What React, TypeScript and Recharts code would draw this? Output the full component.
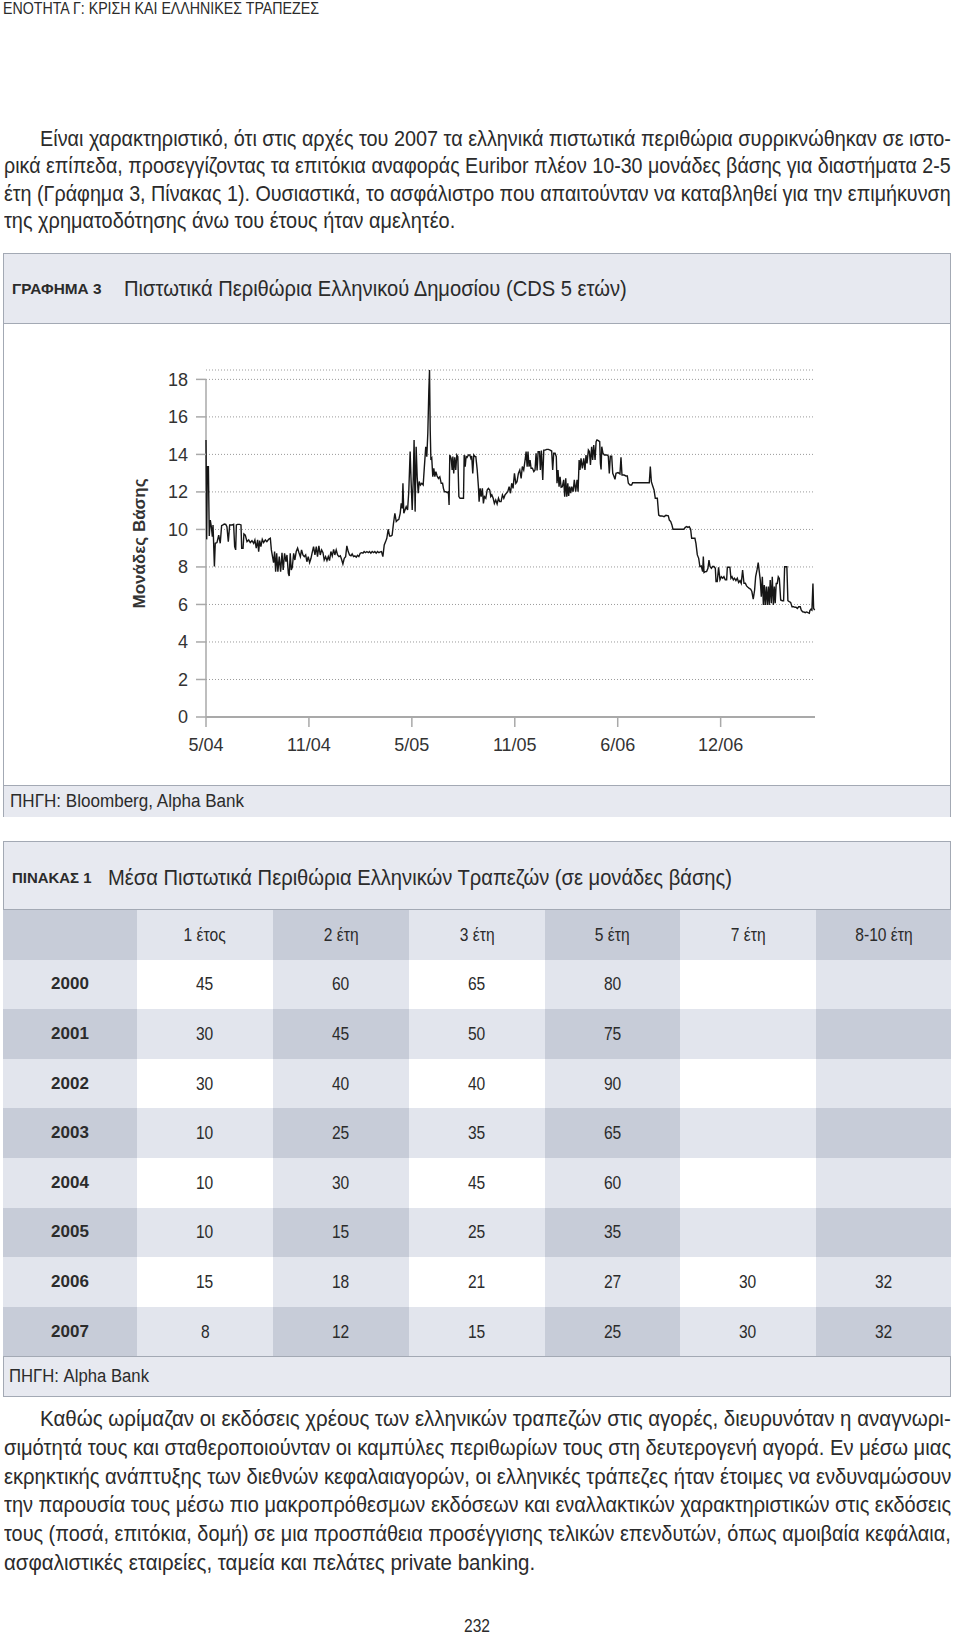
import React, { useLayoutEffect, useRef, useState } from 'react';
import { LineChart, Line, XAxis, YAxis, CartesianGrid, ReferenceLine } from 'recharts';

const FONT = "'Liberation Sans', Arial, sans-serif";
const TEXT = '#2b2b2b';
const BORDER = '#a3a9b4';
const BAND = '#e7e9f0';
const LIGHT = '#e2e5ed';
const MID = '#c7ccd8';

// ---- Chart data (x = months since May 2004, y = basis points) ----
const xTickMonths = [0, 6, 12, 18, 24, 30];
const xTickLabels = ['5/04', '11/04', '5/05', '11/05', '6/06', '12/06'];
const yTicks = [0, 2, 4, 6, 8, 10, 12, 14, 16, 18];

const cdsMay04Apr05: [number, number][] = [
  [0, 14.77], [0.04, 9.47], [0.08, 13.35], [0.14, 13.35], [0.19, 9.65], [0.25, 10.5], [0.31, 10.15], [0.37, 9.62], [0.41, 10.24], [0.49, 8.02],
  [0.54, 9.26], [0.64, 9.3], [0.74, 9.7], [0.83, 9.26], [0.91, 10.2], [0.99, 10.24], [1.07, 10.29], [1.15, 10.27], [1.22, 10.15], [1.3, 9.35],
  [1.38, 10.24], [1.46, 10.24], [1.53, 10.24], [1.61, 10.27], [1.67, 9.08], [1.73, 8.91], [1.77, 10.24], [1.84, 10.27], [1.96, 10.27], [2.04, 10.24],
  [2.08, 9.0], [2.16, 9.0], [2.21, 9.76], [2.29, 9.7], [2.39, 9.35], [2.49, 9.44], [2.58, 9.3], [2.68, 9.4], [2.78, 9.26], [2.85, 9.44],
  [2.93, 9.0], [3.01, 9.44], [3.07, 8.82], [3.13, 9.4], [3.2, 9.08], [3.28, 9.47], [3.36, 9.3], [3.46, 9.44], [3.55, 9.35], [3.65, 9.47],
  [3.75, 9.53], [3.81, 8.91], [3.86, 8.64], [3.94, 8.23], [4.0, 8.82], [4.06, 7.75], [4.12, 8.73], [4.19, 7.75], [4.27, 8.55], [4.35, 7.75],
  [4.43, 8.76], [4.5, 7.84], [4.58, 8.73], [4.66, 8.28], [4.72, 8.64], [4.8, 7.66], [4.85, 7.52], [4.91, 8.73], [4.97, 7.84], [5.03, 7.98],
  [5.11, 8.73], [5.18, 8.37], [5.26, 8.82], [5.34, 9.0], [5.42, 8.76], [5.5, 8.55], [5.57, 8.91], [5.65, 8.64], [5.73, 8.55], [5.81, 8.64],
  [5.88, 8.28], [5.96, 8.55], [6.04, 8.23], [6.12, 8.46], [6.19, 8.76], [6.27, 9.08], [6.35, 8.64], [6.43, 9.08], [6.5, 8.55], [6.58, 9.12],
  [6.66, 8.64], [6.74, 8.91], [6.82, 8.76], [6.89, 8.37], [6.97, 8.55], [7.05, 8.34], [7.13, 8.55], [7.2, 8.34], [7.28, 8.82], [7.36, 8.59],
  [7.44, 8.94], [7.51, 8.64], [7.59, 8.91], [7.67, 8.64], [7.75, 8.55], [7.83, 8.59], [7.9, 8.41], [7.98, 8.16], [8.06, 8.46], [8.14, 8.55],
  [8.21, 9.12], [8.29, 8.82], [8.37, 8.64], [8.45, 8.59], [8.52, 8.69], [8.6, 8.55], [8.68, 8.59], [8.76, 8.52], [8.83, 8.62], [8.91, 8.55],
  [8.99, 8.73], [9.07, 8.76], [9.15, 8.73], [9.22, 8.82], [9.3, 8.76], [9.38, 8.82], [9.46, 8.76], [9.53, 8.82], [9.61, 8.73], [9.69, 8.82],
  [9.77, 8.76], [9.84, 8.82], [9.92, 8.73], [10.0, 8.82], [10.08, 8.76], [10.16, 8.8], [10.23, 8.82], [10.31, 8.55], [10.39, 9.17], [10.47, 9.35],
  [10.54, 9.53], [10.62, 10.01], [10.7, 9.65], [10.78, 9.65], [10.85, 9.7], [10.93, 10.33], [11.01, 10.86], [11.09, 10.42], [11.17, 10.5], [11.24, 10.54],
  [11.32, 10.86], [11.38, 11.39], [11.44, 11.13], [11.48, 12.46], [11.53, 10.86],
];

const cdsApr05May06: [number, number][] = [
  [11.67, 11.21], [11.75, 11.04], [11.82, 12.01], [11.9, 14.15], [11.96, 12.46], [12.02, 11.04], [12.08, 12.64], [12.13, 14.77], [12.19, 10.95], [12.25, 14.41],
  [12.31, 12.81], [12.37, 11.93], [12.43, 12.55], [12.5, 12.37], [12.58, 12.46], [12.66, 12.37], [12.73, 13.35], [12.81, 14.41], [12.87, 13.88], [12.93, 15.12],
  [12.99, 17.43], [13.03, 18.5], [13.07, 15.3], [13.11, 13.7], [13.16, 13.79], [13.22, 12.81], [13.28, 13.26], [13.34, 12.81], [13.4, 13.08], [13.47, 12.85],
  [13.55, 12.72], [13.63, 12.81], [13.71, 12.46], [13.79, 12.46], [13.84, 12.19], [13.9, 12.01], [13.98, 12.01], [14.06, 11.96], [14.13, 12.01], [14.17, 11.3],
  [14.21, 13.97], [14.29, 13.79], [14.35, 13.17], [14.39, 13.88], [14.44, 12.99], [14.5, 13.84], [14.56, 13.17], [14.62, 13.97], [14.68, 13.88], [14.74, 11.75],
  [14.81, 11.66], [14.91, 11.66], [15.01, 11.66], [15.05, 13.97], [15.11, 13.35], [15.16, 13.88], [15.22, 13.84], [15.3, 13.97], [15.38, 13.97], [15.44, 13.79],
  [15.49, 13.91], [15.55, 12.99], [15.61, 13.97], [15.69, 13.88], [15.73, 13.88], [15.81, 13.17], [15.88, 12.28], [15.92, 11.48], [15.98, 12.19], [16.04, 11.75],
  [16.11, 12.19], [16.17, 11.39], [16.23, 11.75], [16.31, 11.66], [16.39, 12.1], [16.46, 12.19], [16.54, 12.1], [16.6, 11.75], [16.66, 11.84], [16.74, 11.66],
  [16.81, 11.39], [16.89, 11.57], [16.97, 11.36], [17.05, 11.66], [17.12, 11.48], [17.2, 11.48], [17.28, 11.84], [17.36, 11.66], [17.43, 11.84], [17.51, 11.93],
  [17.59, 12.01], [17.67, 12.28], [17.75, 11.93], [17.82, 12.46], [17.9, 12.19], [17.98, 12.99], [18.06, 12.46], [18.13, 12.55], [18.21, 12.99], [18.29, 13.17],
  [18.37, 12.72], [18.44, 13.35], [18.52, 13.17], [18.6, 13.7], [18.66, 14.15], [18.72, 13.35], [18.77, 14.15], [18.83, 13.35], [18.89, 13.7], [18.95, 13.26],
  [19.03, 13.26], [19.11, 13.08], [19.18, 13.17], [19.24, 14.06], [19.3, 13.14], [19.36, 14.15], [19.44, 14.15], [19.49, 13.17], [19.55, 14.2], [19.63, 12.64],
  [19.69, 14.23], [19.77, 14.23], [19.86, 14.27], [19.96, 14.27], [20.06, 14.23], [20.15, 14.18], [20.21, 13.17], [20.27, 14.06], [20.35, 14.06], [20.42, 13.88],
  [20.46, 12.46], [20.52, 13.17], [20.58, 12.28], [20.64, 12.81], [20.7, 12.25], [20.77, 12.28], [20.85, 12.64], [20.91, 11.75], [20.97, 12.72], [21.03, 11.75],
  [21.09, 12.46], [21.14, 11.78], [21.2, 12.28], [21.26, 11.93], [21.32, 12.28], [21.4, 12.01], [21.47, 12.64], [21.55, 12.01], [21.63, 12.64], [21.69, 12.01],
  [21.75, 13.7], [21.8, 13.17], [21.86, 13.79], [21.94, 13.26], [22.02, 13.79], [22.09, 13.17], [22.15, 13.97], [22.21, 13.52], [22.29, 14.23], [22.35, 14.15],
  [22.41, 13.44], [22.48, 14.41], [22.54, 13.7], [22.6, 14.5], [22.68, 13.7], [22.74, 14.68], [22.79, 14.77], [22.87, 14.73], [22.95, 14.68], [22.99, 13.52],
  [23.03, 13.2], [23.07, 14.41], [23.14, 14.06], [23.22, 13.97], [23.3, 13.97], [23.38, 13.97], [23.45, 13.91], [23.51, 12.99], [23.57, 13.91], [23.65, 13.91],
];

const cdsMay06Jan07: [number, number][] = [
  [23.71, 12.99], [23.79, 12.81], [23.84, 12.67], [23.9, 12.99], [24.02, 13.03], [24.13, 12.96], [24.19, 13.84], [24.25, 12.9], [24.37, 12.9], [24.48, 12.85],
  [24.56, 12.85], [24.62, 12.46], [24.72, 12.37], [24.81, 12.37], [24.87, 12.49], [25.11, 12.49], [25.49, 12.49], [25.84, 12.49], [25.9, 13.35], [25.96, 12.55],
  [26.04, 12.32], [26.12, 12.1], [26.19, 11.66], [26.31, 11.66], [26.39, 10.77], [26.47, 10.72], [26.58, 10.72], [26.7, 10.68], [26.81, 10.75], [26.95, 10.72],
  [27.01, 10.5], [27.09, 10.42], [27.16, 10.24], [27.22, 10.01], [27.34, 10.01], [27.53, 10.01], [27.73, 10.01], [27.86, 10.01], [27.94, 10.11], [28.02, 10.15],
  [28.09, 10.11], [28.17, 10.15], [28.25, 10.01], [28.31, 9.53], [28.41, 9.53], [28.5, 9.53], [28.56, 9.26], [28.64, 8.64], [28.72, 8.46], [28.79, 8.02],
  [28.87, 8.05], [28.95, 7.75], [28.99, 8.55], [29.03, 7.7], [29.11, 7.75], [29.18, 7.75], [29.26, 7.93], [29.32, 8.37], [29.38, 8.02], [29.46, 7.93],
  [29.53, 8.02], [29.61, 8.02], [29.69, 7.93], [29.73, 7.22], [29.8, 7.22], [29.88, 7.98], [29.96, 7.31], [30.04, 7.48], [30.12, 7.4], [30.19, 7.48],
  [30.27, 7.31], [30.35, 7.31], [30.39, 7.98], [30.46, 7.98], [30.54, 7.98], [30.6, 7.4], [30.66, 7.48], [30.74, 7.31], [30.81, 7.4], [30.89, 7.27],
  [30.97, 7.4], [31.05, 7.17], [31.13, 7.27], [31.2, 7.13], [31.28, 7.84], [31.36, 7.13], [31.44, 7.13], [31.51, 6.99], [31.59, 6.92], [31.67, 6.86],
  [31.75, 6.81], [31.82, 6.69], [31.9, 6.28], [31.98, 6.77], [32.04, 7.48], [32.12, 7.84], [32.19, 8.23],
];

const cdsJan07Apr07: [number, number][] = [
  [32.31, 7.3], [32.37, 6.41], [32.43, 7.48], [32.49, 5.97], [32.54, 7.04], [32.6, 5.97], [32.66, 6.95], [32.72, 5.97], [32.78, 6.95], [32.83, 5.97],
  [32.89, 7.3], [32.95, 6.06], [33.01, 7.48], [33.07, 5.97], [33.13, 6.95], [33.18, 6.06], [33.24, 7.12], [33.3, 7.12], [33.36, 7.48], [33.42, 7.39],
  [33.5, 6.24], [33.59, 6.2], [33.67, 6.2], [33.73, 8.01], [33.81, 8.01], [33.86, 8.01], [33.92, 6.2], [34.0, 6.15], [34.08, 6.11], [34.16, 5.88],
  [34.25, 5.88], [34.33, 5.85], [34.39, 5.85], [34.47, 5.79], [34.55, 5.88], [34.64, 5.88], [34.7, 5.7], [34.78, 5.61], [34.85, 5.6], [34.93, 5.56],
  [35.01, 5.6], [35.09, 5.56], [35.17, 5.53], [35.2, 5.67], [35.26, 5.74], [35.32, 5.7], [35.38, 7.12], [35.42, 5.79], [35.48, 5.7],
];

const cdsData = [...cdsMay04Apr05, ...cdsApr05May06, ...cdsMay06Jan07, ...cdsJan07Apr07].map(([m, v]) => ({ m, v }));

// ---- Table data ----
const tableYears = ['2000', '2001', '2002', '2003', '2004', '2005', '2006', '2007'];
const tenorLabels = ['1 έτος', '2 έτη', '3 έτη', '5 έτη', '7 έτη', '8-10 έτη'];
const spreads2000 = [45, 60, 65, 80, null, null];
const spreads2001 = [30, 45, 50, 75, null, null];
const spreads2002 = [30, 40, 40, 90, null, null];
const spreads2003 = [10, 25, 35, 65, null, null];
const spreads2004 = [10, 30, 45, 60, null, null];
const spreads2005 = [10, 15, 25, 35, null, null];
const spreads2006 = [15, 18, 21, 27, 30, 32];
const spreads2007 = [8, 12, 15, 25, 30, 32];
const tableRows = [spreads2000, spreads2001, spreads2002, spreads2003, spreads2004, spreads2005, spreads2006, spreads2007];

// ---- Text ----
const para1 = [
  'Είναι χαρακτηριστικό, ότι στις αρχές του 2007 τα ελληνικά πιστωτικά περιθώρια συρρικνώθηκαν σε ιστο-',
  'ρικά επίπεδα, προσεγγίζοντας τα επιτόκια αναφοράς Euribor πλέον 10-30 μονάδες βάσης για διαστήματα 2-5',
  'έτη (Γράφημα 3, Πίνακας 1). Ουσιαστικά, το ασφάλιστρο που απαιτούνταν να καταβληθεί για την επιμήκυνση',
  'της χρηματοδότησης άνω του έτους ήταν αμελητέο.',
];
const para2 = [
  'Καθώς ωρίμαζαν οι εκδόσεις χρέους των ελληνικών τραπεζών στις αγορές, διευρυνόταν η αναγνωρι-',
  'σιμότητά τους και σταθεροποιούνταν οι καμπύλες περιθωρίων τους στη δευτερογενή αγορά. Εν μέσω μιας',
  'εκρηκτικής ανάπτυξης των διεθνών κεφαλαιαγορών, οι ελληνικές τράπεζες ήταν έτοιμες να ενδυναμώσουν',
  'την παρουσία τους μέσω πιο μακροπρόθεσμων εκδόσεων και εναλλακτικών χαρακτηριστικών στις εκδόσεις',
  'τους (ποσά, επιτόκια, δομή) σε μια προσπάθεια προσέγγισης τελικών επενδυτών, όπως αμοιβαία κεφάλαια,',
  'ασφαλιστικές εταιρείες, ταμεία και πελάτες private banking.',
];

type FitProps = {
  text: string; x0: number; x1: number; y: number; size: number;
  bold?: boolean; color?: string;
};

// Renders one line of text and scales it horizontally so it spans x0..x1.
function FitText({ text, x0, x1, y, size, bold, color = TEXT }: FitProps) {
  const ref = useRef<HTMLSpanElement>(null);
  const [s, setS] = useState(1);
  useLayoutEffect(() => {
    const el = ref.current;
    if (!el) return;
    const n = el.offsetWidth;
    if (n > 0) setS((x1 - x0) / n);
  }, [text, x0, x1]);
  return (
    <div
      style={{
        position: 'absolute', left: x0, top: y - size, height: size * 2, lineHeight: `${size * 2}px`,
        whiteSpace: 'nowrap', fontSize: size, fontWeight: bold ? 700 : 400, color,
        transform: `scaleX(${s})`, transformOrigin: '0 0',
      }}
    >
      <span ref={ref} style={{ display: 'inline-block' }}>{text}</span>
    </div>
  );
}

function Paragraph({ lines, y0, pitch, lastEnd }: { lines: string[]; y0: number; pitch: number; lastEnd: number }) {
  return (
    <>
      {lines.map((t, i) => {
        const last = i === lines.length - 1;
        return (
          <FitText
            key={i}
            text={t}
            x0={i === 0 ? 40 : 4}
            x1={last ? lastEnd : 951}
            y={y0 + i * pitch}
            size={22}
          />
        );
      })}
    </>
  );
}

function CdsChart() {
  return (
    <LineChart width={960} height={462} data={cdsData} margin={{ top: 47, right: 145, bottom: 38, left: 136 }}>
      <CartesianGrid vertical={false} stroke="#9a9a9a" strokeDasharray="1 2" />
      <XAxis
        type="number"
        dataKey="m"
        domain={[0, 35.5]}
        ticks={xTickMonths}
        interval={0}
        tickFormatter={(v: number) => xTickLabels[xTickMonths.indexOf(v)]}
        height={30}
        tickSize={10}
        tickMargin={11}
        axisLine={{ stroke: '#a9a9a9', strokeWidth: 2 }}
        tickLine={{ stroke: '#a9a9a9', strokeWidth: 1.5 }}
        tick={{ fill: '#333', fontSize: 18, fontFamily: FONT }}
      />
      <YAxis
        type="number"
        domain={[0, 18.5]}
        ticks={yTicks}
        interval={0}
        width={70}
        tickSize={10}
        tickMargin={8}
        axisLine={false}
        tickLine={{ stroke: '#a9a9a9', strokeWidth: 1.5 }}
        tick={{ fill: '#333', fontSize: 18, fontFamily: FONT }}
        label={{
          value: 'Μονάδες Βάσης', angle: -90, position: 'insideLeft', offset: 3,
          style: { textAnchor: 'middle', fontWeight: 700, fontSize: 17, fill: '#333', fontFamily: FONT },
        }}
      />
      <ReferenceLine
        segment={[{ x: 0, y: 0 }, { x: 0, y: 18 }]}
        stroke="#a9a9a9"
        strokeWidth={1.5}
        ifOverflow="visible"
      />
      <Line type="linear" dataKey="v" stroke="#161616" strokeWidth={1.4} dot={false} activeDot={false} isAnimationActive={false} />
    </LineChart>
  );
}

const colX = [3, 137, 273, 409, 545, 680, 816, 951];
const rowTop0 = 910;
const rowH = 49.6;

function cellColor(r: number, c: number) {
  if (r % 2 === 0) return c % 2 === 0 ? MID : LIGHT;
  return c % 2 === 0 ? LIGHT : '#ffffff';
}

function Cell({ r, c, children, bold }: { r: number; c: number; children?: React.ReactNode; bold?: boolean }) {
  return (
    <div
      style={{
        position: 'absolute', left: colX[c], top: rowTop0 + r * rowH, width: colX[c + 1] - colX[c], height: rowH,
        background: cellColor(r, c), display: 'flex', alignItems: 'center', justifyContent: 'center',
      }}
    >
      <span style={{ display: 'inline-block', fontSize: bold ? 17 : 19, fontWeight: bold ? 700 : 400, color: TEXT, transform: bold ? 'none' : 'scaleX(0.82)' }}>
        {children}
      </span>
    </div>
  );
}

export default function App() {
  return (
    <div style={{ position: 'absolute', left: 0, top: 0, width: 960, height: 1637, background: '#fff', overflow: 'hidden', fontFamily: FONT, color: TEXT }}>
      <FitText text="ΕΝΟΤΗΤΑ Γ: ΚΡΙΣΗ ΚΑΙ ΕΛΛΗΝΙΚΕΣ ΤΡΑΠΕΖΕΣ" x0={3} x1={319} y={9} size={16} />

      <Paragraph lines={para1} y0={139} pitch={27.4} lastEnd={455} />

      {/* Chart box */}
      <div style={{ position: 'absolute', left: 3, top: 253, width: 948, height: 564, border: `1px solid ${BORDER}`, boxSizing: 'border-box', background: '#fff' }} />
      <div style={{ position: 'absolute', left: 4, top: 254, width: 946, height: 69, background: BAND, borderBottom: `1px solid ${BORDER}` }} />
      <div style={{ position: 'absolute', left: 4, top: 785, width: 946, height: 31, background: BAND, borderTop: `1px solid ${BORDER}` }} />
      <FitText text="ΓΡΑΦΗΜΑ 3" x0={12} x1={102} y={289} size={14} bold />
      <FitText text="Πιστωτικά Περιθώρια Ελληνικού Δημοσίου (CDS 5 ετών)" x0={124} x1={627} y={289} size={22} />
      <div style={{ position: 'absolute', left: 0, top: 323 }}>
        <CdsChart />
      </div>
      <FitText text="ΠΗΓΗ: Bloomberg, Alpha Bank" x0={10} x1={244} y={801} size={18} />

      {/* Table box */}
      <div style={{ position: 'absolute', left: 3, top: 841, width: 948, height: 556, border: `1px solid ${BORDER}`, boxSizing: 'border-box', background: BAND }} />
      <FitText text="ΠΙΝΑΚΑΣ 1" x0={12} x1={92} y={878} size={14} bold />
      <FitText text="Μέσα Πιστωτικά Περιθώρια Ελληνικών Τραπεζών (σε μονάδες βάσης)" x0={108} x1={732} y={878} size={22} />
      <Cell r={0} c={0} />
      {tenorLabels.map((t, i) => (
        <Cell key={`h${i}`} r={0} c={i + 1}>{t}</Cell>
      ))}
      {tableRows.map((row, ri) => (
        <React.Fragment key={`r${ri}`}>
          <Cell r={ri + 1} c={0} bold>{tableYears[ri]}</Cell>
          {row.map((v, ci) => (
            <Cell key={`c${ri}-${ci}`} r={ri + 1} c={ci + 1}>{v === null ? '' : String(v)}</Cell>
          ))}
        </React.Fragment>
      ))}
      <div style={{ position: 'absolute', left: 3, top: 909, width: 948, height: 1, background: BORDER }} />
      <div style={{ position: 'absolute', left: 3, top: rowTop0 + 9 * rowH, width: 948, height: 1, background: BORDER }} />
      <FitText text="ΠΗΓΗ: Alpha Bank" x0={9} x1={149} y={1376} size={18} />

      <Paragraph lines={para2} y0={1419} pitch={28.8} lastEnd={535} />

      <FitText text="232" x0={464} x1={490} y={1626} size={18} />
    </div>
  );
}
